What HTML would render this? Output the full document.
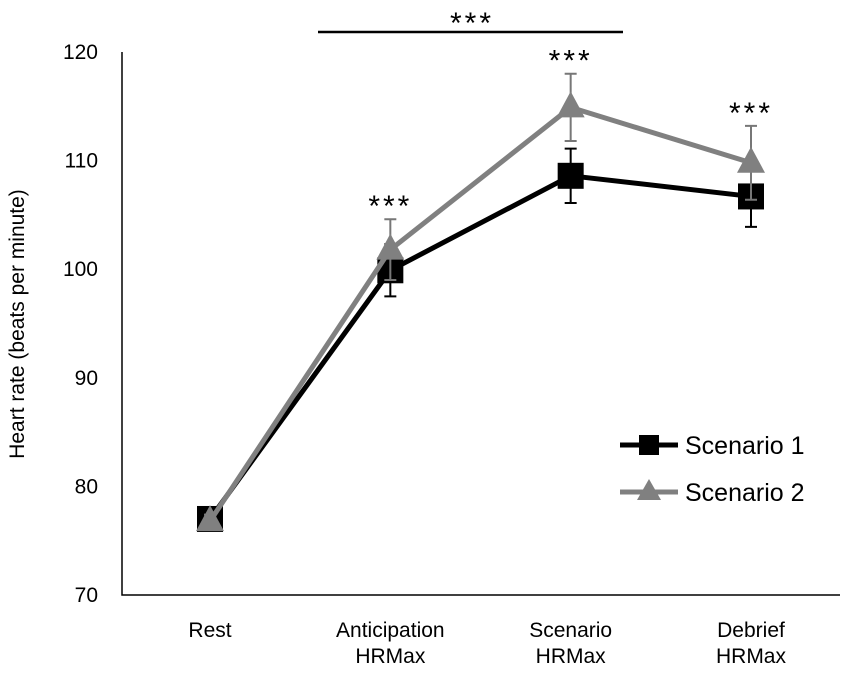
<!DOCTYPE html>
<html><head><meta charset="utf-8"><style>
body{margin:0;background:#fff;font-family:"Liberation Sans",sans-serif}
text{font-family:"Liberation Sans",sans-serif}
</style></head><body>
<svg id="chart" width="851" height="678" xmlns="http://www.w3.org/2000/svg"></svg>
<script>
const categories=[["Rest"],["Anticipation","HRMax"],["Scenario","HRMax"],["Debrief","HRMax"]];
const s1Values=[77.0,99.9,108.6,106.7];
const s1Errors=[0.6,2.4,2.5,2.8];
const s2Values=[76.8,101.8,114.9,109.8];
const s2Errors=[0.6,2.8,3.1,3.4];
const yTicks=[70,80,90,100,110,120];
const sigCats=[1,2,3];
const svg=document.getElementById('chart');
const NS='http://www.w3.org/2000/svg';
const xs=[210,391,571,751];
function x(i){return xs[0]+i*(xs[3]-xs[0])/3;}
function y(v){return 595-(v-70)*10.86;}
function el(t,a,p){const e=document.createElementNS(NS,t);for(const k in a)e.setAttribute(k,a[k]);(p||svg).appendChild(e);return e;}
let ax=el('path',{d:`M122,${y(120)} V595 H840`,stroke:'#000','stroke-width':1.5,fill:'none'});


yTicks.forEach(v=>{const t=el('text',{x:98,y:y(v)+7,'text-anchor':'end','font-size':21});t.textContent=v;

});
categories.forEach((c,i)=>{c.forEach((s,j)=>{const t=el('text',{x:x(i),y:637+j*26,'text-anchor':'middle','font-size':21});t.textContent=s;

});});
const yl=el('text',{x:0,y:0,transform:'translate(24,324) rotate(-90)','text-anchor':'middle','font-size':21});yl.textContent='Heart rate (beats per minute)';


function series(vals,errs,color,marker,name){
 vals.forEach((v,i)=>{const e=errs[i];const g=el('path',{d:`M${x(i)},${y(v+e)}V${y(v-e)}M${x(i)-6},${y(v+e)}h12M${x(i)-6},${y(v-e)}h12`,stroke:color==='#000'?'#000':'#777','stroke-width':2,fill:'none'});
 
 });
 const l=el('polyline',{points:vals.map((v,i)=>x(i)+','+y(v)).join(' '),stroke:color,'stroke-width':5,fill:'none','stroke-linejoin':'round'});
 
 
 vals.forEach((v,i)=>{let m;
  if(marker==='sq')m=el('rect',{x:x(i)-13,y:y(v)-13,width:26,height:26,fill:color});
  else m=el('polygon',{points:`${x(i)},${y(v)-16} ${x(i)+14},${y(v)+10} ${x(i)-14},${y(v)+10}`,fill:color});
  
  });
}
series(s1Values,s1Errors,'#000','sq','scenario-1');
series(s2Values,s2Errors,'#808080','tri','scenario-2');
sigCats.forEach(i=>{const top=Math.max(s1Values[i]+s1Errors[i],s2Values[i]+s2Errors[i]);const t=el('text',{x:x(i),y:y(top)-3,'text-anchor':'middle','font-size':30,'letter-spacing':3});t.textContent='***';

});
const sb=el('line',{x1:318,x2:623,y1:32,y2:32,stroke:'#000','stroke-width':2.5});


const st=el('text',{x:472,y:33,'text-anchor':'middle','font-size':30,'letter-spacing':3});st.textContent='***';


[['Scenario 1','#000','sq',445],['Scenario 2','#808080','tri',492]].forEach(([n,c,m,ly])=>{
 const g=el('g',{});
 
 
 el('line',{x1:620,x2:678,y1:ly,y2:ly,stroke:c,'stroke-width':5},g);
 if(m==='sq')el('rect',{x:639,y:ly-10,width:20,height:20,fill:c},g);
 else el('polygon',{points:`649,${ly-13} 661,${ly+8} 637,${ly+8}`,fill:c},g);
 const t=el('text',{x:685,y:ly+9,'font-size':25},g);t.textContent=n;
});
</script>
</body></html>
